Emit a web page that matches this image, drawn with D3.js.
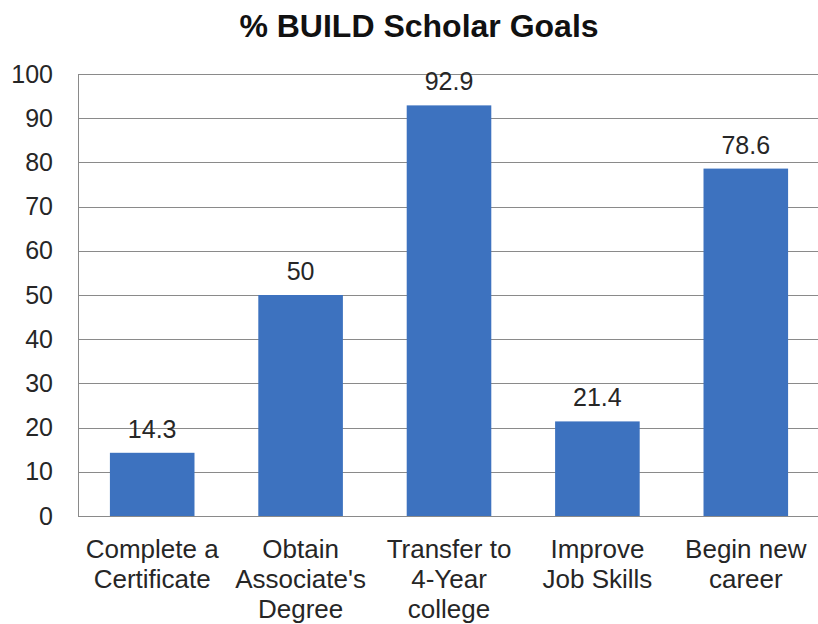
<!DOCTYPE html>
<html>
<head>
<meta charset="utf-8">
<script src="https://cdn.jsdelivr.net/npm/d3@7"></script>
<style>
  html, body { margin: 0; padding: 0; background: #fff; }
  #outer { width: 818px; height: 624px; }
</style>
</head>
<body>
<div id="outer"></div>
<script>
// chart data
const categories = [
  ['Complete a', 'Certificate'],
  ['Obtain', "Associate's", 'Degree'],
  ['Transfer to', '4-Year', 'college'],
  ['Improve', 'Job Skills'],
  ['Begin new', 'career']
];
const values = [14.3, 50, 92.9, 21.4, 78.6];
const valueLabels = ['14.3', '50', '92.9', '21.4', '78.6'];
const yTicks = [0, 10, 20, 30, 40, 50, 60, 70, 80, 90, 100];
const titleText = '% BUILD Scholar Goals';

////////// layout //////////
const width = 818, height = 624;
const margin = { top: 74, right: -2, bottom: 108, left: 78 };
const fontFamily = 'Arial, "Liberation Sans", sans-serif';
const textColor = '#262626';
const barColor = '#3d72bf';
const gridColor = '#8a8a8a';

const svg = d3.select('#outer').append('svg')
  .attr('width', width)
  .attr('height', height)
  .style('font-family', fontFamily);

const x = d3.scaleBand()
  .domain(d3.range(values.length))
  .range([margin.left, width - margin.right])
  .paddingInner(0.43)
  .paddingOuter(0.215);

const y = d3.scaleLinear()
  .domain([0, 100])
  .range([height - margin.bottom, margin.top]);

// title
svg.append('text')
  .attr('x', 419)
  .attr('y', 37)
  .attr('text-anchor', 'middle')
  .attr('fill', '#111')
  .style('font-size', '32px')
  .style('font-weight', 'bold')
  .text(titleText);

// gridlines
svg.append('g')
  .selectAll('line')
  .data(yTicks.filter(d => d > 0))
  .join('line')
  .attr('x1', margin.left)
  .attr('x2', width)
  .attr('y1', d => Math.round(y(d)) + 0.5)
  .attr('y2', d => Math.round(y(d)) + 0.5)
  .attr('stroke', gridColor)
  .attr('stroke-width', 1);

// bars
svg.append('g')
  .selectAll('rect')
  .data(values)
  .join('rect')
  .attr('x', (d, i) => x(i))
  .attr('width', x.bandwidth())
  .attr('y', d => y(d))
  .attr('height', d => y(0) - y(d))
  .attr('fill', barColor);

// value labels
svg.append('g')
  .selectAll('text')
  .data(values)
  .join('text')
  .attr('x', (d, i) => x(i) + x.bandwidth() / 2)
  .attr('y', d => y(d) - 15)
  .attr('text-anchor', 'middle')
  .attr('fill', textColor)
  .style('font-size', '25px')
  .text((d, i) => valueLabels[i]);

// y axis
const yAxis = svg.append('g')
  .attr('transform', `translate(${margin.left},0)`)
  .call(d3.axisLeft(y).tickValues(yTicks).tickSize(0).tickPadding(25));
yAxis.select('.domain').attr('stroke', gridColor);
yAxis.selectAll('text')
  .attr('fill', textColor)
  .style('font-size', '25px')
  .style('font-family', fontFamily);

// x axis baseline
svg.append('line')
  .attr('x1', margin.left)
  .attr('x2', width)
  .attr('y1', Math.round(y(0)) + 0.5)
  .attr('y2', Math.round(y(0)) + 0.5)
  .attr('stroke', gridColor);

// category labels
const catGroup = svg.append('g')
  .selectAll('text')
  .data(categories)
  .join('text')
  .attr('x', (d, i) => x(i) + x.bandwidth() / 2)
  .attr('y', y(0) + 42)
  .attr('text-anchor', 'middle')
  .attr('fill', textColor)
  .style('font-size', '26px');

catGroup.selectAll('tspan')
  .data(d => d)
  .join('tspan')
  .attr('x', function () { return d3.select(this.parentNode).attr('x'); })
  .attr('dy', (d, i) => i === 0 ? 0 : 30)
  .text(d => d);
</script>
</body>
</html>
